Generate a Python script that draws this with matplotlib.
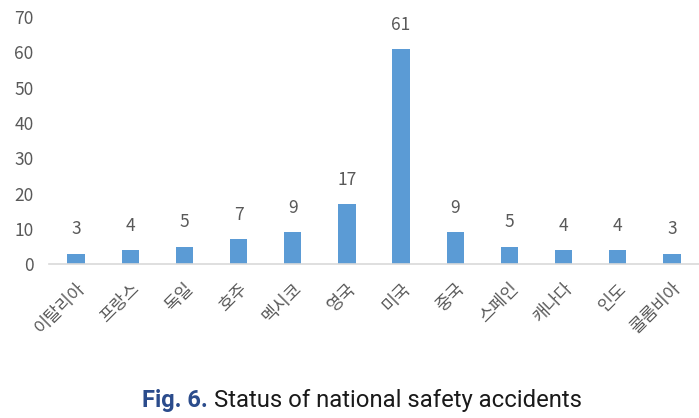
import matplotlib.pyplot as plt
import numpy as np

plt.rcParams['font.family'] = ['Noto Sans CJK KR', 'DejaVu Sans']

countries = ['이탈리아', '프랑스', '독일', '호주', '멕시코', '영국', '미국',
             '중국', '스페인', '캐나다', '인도', '콜롬비아']
accidents = [3, 4, 5, 7, 9, 17, 61, 9, 5, 4, 4, 3]
y_ticks = [0, 10, 20, 30, 40, 50, 60, 70]

fig = plt.figure(figsize=(6.99, 4.18), dpi=100)
ax = fig.add_axes([0.070, 0.368, 0.93, 0.591])

x = np.arange(len(countries))
ax.bar(x, accidents, width=0.32, color='#5B9BD5')

for xi, v in zip(x, accidents):
    ax.annotate(str(v), (xi, v), xytext=(0, 17.5), textcoords='offset points',
                ha='center', va='center', fontsize=12.5, color='#595959')

ax.set_xlim(-0.5, len(countries) - 0.5)
ax.set_ylim(0, 70)
ax.set_yticks(y_ticks)
ax.set_xticks(x)
ax.set_xticklabels(countries, rotation=45, ha='right', rotation_mode='anchor',
                   fontsize=12.5, color='#595959')
ax.tick_params(axis='y', length=0, labelsize=12.5, labelcolor='#595959', pad=11)
ax.tick_params(axis='x', length=0, pad=11)

for s in ['top', 'right', 'left']:
    ax.spines[s].set_visible(False)
ax.spines['bottom'].set_color('#D9D9D9')
ax.spines['bottom'].set_linewidth(1.2)

# caption
cap_y = 1 - 400 / 418
fig.text(208 / 699, cap_y, 'Fig. 6.', ha='right', va='center', fontsize=17,
         color='#2B4C8C', fontweight='semibold', family=['Roboto', 'DejaVu Sans'])
fig.text(214 / 699, cap_y, 'Status of national safety accidents', ha='left', va='center',
         fontsize=17.2, color='#1a1a1a', family=['Roboto', 'DejaVu Sans'])

fig.savefig('out.png', dpi=100)
